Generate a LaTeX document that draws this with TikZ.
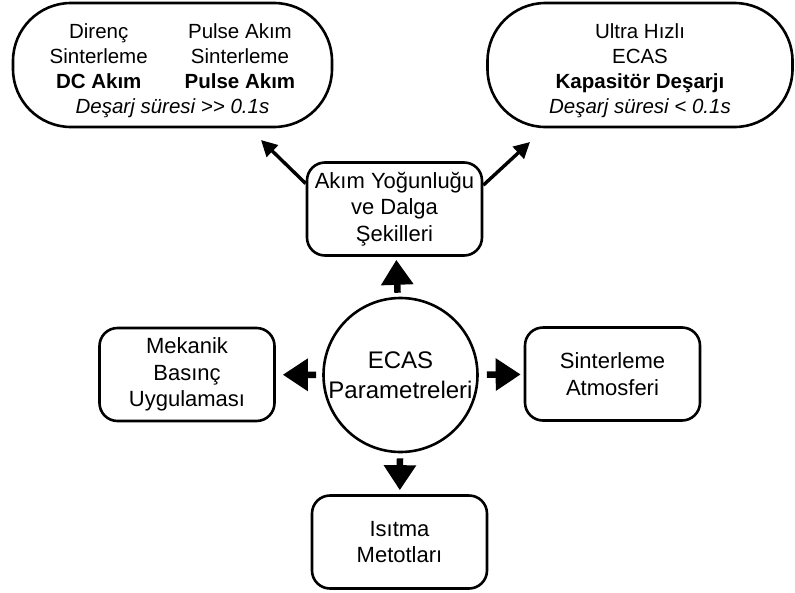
\documentclass[tikz,border=0pt]{standalone}
\usepackage{fontspec}
\setmainfont{Liberation Sans}
\usetikzlibrary{arrows.meta}
\begin{document}
\begin{tikzpicture}[x=1pt,y=-1pt,
  shape base/.style={line width=2.6pt, draw=black, align=center, inner sep=0pt},
  stadium/.style={shape base, rounded corners=58pt, minimum width=#1, minimum height=124pt,
    font=\fontsize{20.5}{25}\selectfont},
  topic/.style={shape base, rounded corners=18pt, minimum width=175pt, minimum height=93pt,
    font=\fontsize{22}{26.4}\selectfont},
  hub/.style={shape base, circle, minimum size=154pt, font=\fontsize{24}{29.5}\selectfont},
  blockarrow/.style={line width=6.5pt, -{Triangle[length=25pt,width=31pt]}},
  thinarrow/.style={line width=3.4pt, -{Triangle[length=16pt,width=16pt]}}
]
\useasboundingbox (0,0) rectangle (795,592);

% centre and the four topics around it
\node[hub] (hub) at (400.5,375) {ECAS\\Parametreleri};
\node[topic] (akim) at (394.5,209) {Akım Yoğunluğu\\ve Dalga\\Şekilleri};
\node[topic] (mek) at (187,374.5) {Mekanik\\Basınç\\Uygulaması};
\node[topic] (atm) at (612.5,374) {Sinterleme\\Atmosferi};
\node[topic] (isi) at (399.5,542) {Isıtma\\Metotları};

% the two discharge regimes (text set a little below the middle)
\node[stadium=319pt] (slow) at (172.5,65) {%
  \raisebox{-6pt}[\height][\depth]{%
  \begin{tabular}{@{}c@{\hspace{37pt}}c@{}}
  Direnç & Pulse Akım\\
  Sinterleme & Sinterleme\\
  \textbf{DC Akım} & \textbf{Pulse Akım}\\
  \multicolumn{2}{c}{\textit{Deşarj süresi >\kern0pt> 0.1s}}
  \end{tabular}}};
\node[stadium=305pt] (fast) at (640,65) {%
  \raisebox{-6pt}[\height][\depth]{%
  \begin{tabular}{@{}c@{}}
  Ultra Hızlı\\
  ECAS\\
  \textbf{Kapasitör Deşarjı}\\
  \textit{Deşarj süresi < 0.1s}
  \end{tabular}}};

% arrows out of the centre
\draw[blockarrow, shorten <=4pt, shorten >=3pt] (hub) -- (akim);
\draw[blockarrow, shorten <=6pt, shorten >=7pt] (hub) -- (mek);
\draw[blockarrow, shorten <=8pt, shorten >=3pt] (hub) -- (atm);
\draw[blockarrow, shorten <=5pt, shorten >=4pt] (hub) -- (isi);

% arrows towards the two regimes
\coordinate (slowtip) at (261,140);
\coordinate (fasttip) at (530,142);
\draw[thinarrow] (akim.164) -- (slowtip);
\draw[thinarrow] (akim.15) -- (fasttip);
\end{tikzpicture}
\end{document}
